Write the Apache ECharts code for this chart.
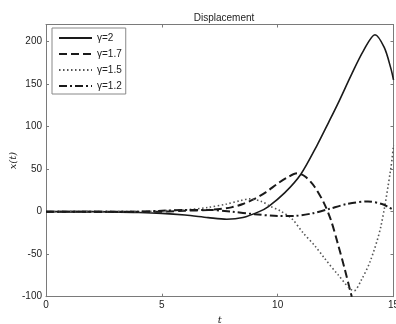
<!DOCTYPE html>
<html><head><meta charset="utf-8">
<script src="https://cdn.jsdelivr.net/npm/echarts@6/dist/echarts.min.js"></script>
<style>html,body{margin:0;padding:0;background:#fff}#c{width:396px;height:324px}</style>
</head><body><div id="c"></div>
<script>
// gamma = 2 (solid)
const t2 = [0, 2, 4, 5, 6, 7, 7.8, 8.5, 9.2, 9.6, 10.3, 11, 11.7, 12.2, 12.6, 13.2, 13.7, 14.2, 14.6, 14.88, 15];
const v2 = [0, 0, -1, -2, -4, -7, -9, -7, 0, 6, 22, 44, 78, 105, 127, 162, 189, 208, 193, 169, 155];
// gamma = 1.7 (dashed)
const t17 = [0, 2, 4, 5, 6, 7, 7.5, 8, 8.5, 9, 9.5, 10, 10.4, 10.85, 11.2, 11.6, 12.0, 12.3, 12.6, 12.9, 13.15, 13.2];
const v17 = [0, 0, 0, 0, 1, 2, 3, 5, 9, 15, 23, 33, 40, 45, 41, 29, 10, -10, -38, -68, -95, -100];
// gamma = 1.5 (dotted)
const t15 = [0, 2, 4, 5, 6, 7, 7.8, 8.4, 8.8, 9.3, 9.7, 10.1, 10.6, 11.1, 11.6, 12, 12.6, 13.3, 13.6, 14, 14.45, 14.88, 15];
const v15 = [0, 0, 0, 1, 2, 5, 9, 13, 15, 12, 6, 1, -8, -25, -40, -54, -74, -93, -81, -58, -18, 50, 78];
// gamma = 1.2 (dash-dot)
const t12 = [0, 2, 4, 5, 6, 7, 8, 9, 10, 10.7, 11.5, 12.2, 13, 13.9, 14.5, 14.8, 15];
const v12 = [0, 0, 0, 1, 2, 2, 0, -3, -5, -5, -2, 3, 9, 12, 9, 5, 2];

const names = ['γ=2', 'γ=1.7', 'γ=1.5', 'γ=1.2'];
const xTicks = [0, 5, 10, 15];
const yTicks = [-100, -50, 0, 50, 100, 150, 200];

const pair = (ts, vs) => ts.map((t, i) => [t, vs[i]]);
const styles = [
  {type: 'solid', width: 1.6, color: '#1a1a1a'},
  {type: [8, 4], width: 2, color: '#1a1a1a'},
  {type: [1.5, 2.5], width: 1.6, color: '#555'},
  {type: [8, 3, 2, 3], width: 2, color: '#1a1a1a'}
];
const datas = [pair(t2, v2), pair(t17, v17), pair(t15, v15), pair(t12, v12)];

const font = 'Liberation Sans, Arial, Helvetica, sans-serif';
const axisCol = '#7a7a7a';
const chart = echarts.init(document.getElementById('c'), null, {renderer: 'canvas'});
chart.setOption({
  animation: false,
  backgroundColor: '#fff',
  title: {text: 'Displacement', left: 219, top: 8, textAlign: 'center',
    textStyle: {fontFamily: font, fontSize: 10, fontWeight: 'normal', color: '#222'}},
  grid: {left: 46, top: 24.5, right: 2.5, bottom: 27.3, outerBoundsMode: 'none', containLabel: false},
  legend: {
    left: 52, top: 28, orient: 'vertical',
    padding: [5, 4, 3, 6],
    itemWidth: 33, itemHeight: 10, itemGap: 6,
    borderColor: '#888', borderWidth: 1, backgroundColor: '#fff',
    itemStyle: {opacity: 0},
    textStyle: {fontFamily: font, fontSize: 10, color: '#222'},
    data: names
  },
  xAxis: [{
    type: 'value', min: 0, max: 15, interval: 5, position: 'bottom',
    name: 't', nameLocation: 'middle', nameGap: 14,
    nameTextStyle: {fontFamily: 'DejaVu Serif, serif', fontStyle: 'italic', fontSize: 10, color: '#222'},
    axisLine: {onZero: false, lineStyle: {color: axisCol, width: 1}},
    axisTick: {inside: true, length: 3, lineStyle: {color: axisCol}},
    axisLabel: {fontFamily: font, fontSize: 10, color: '#222', margin: 4,
      formatter: v => xTicks.includes(v) ? String(v) : ''},
    splitLine: {show: false}
  }, {
    type: 'value', min: 0, max: 15, interval: 5, position: 'top',
    axisLine: {onZero: false, lineStyle: {color: axisCol, width: 1}},
    axisTick: {inside: true, length: 3, lineStyle: {color: axisCol}},
    axisLabel: {show: false}, splitLine: {show: false}
  }],
  yAxis: [{
    type: 'value', min: -100, max: 220, interval: 50, position: 'left',
    name: 'x(t)', nameLocation: 'middle', nameGap: 28, nameMoveOverlap: false,
    nameTextStyle: {fontFamily: 'DejaVu Serif, serif', fontStyle: 'italic', fontSize: 10, color: '#222'},
    axisLine: {show: true, onZero: false, lineStyle: {color: axisCol, width: 1}},
    axisTick: {show: true, inside: true, length: 3, lineStyle: {color: axisCol}},
    axisLabel: {fontFamily: font, fontSize: 10, color: '#222', margin: 4, showMaxLabel: false,
      formatter: v => yTicks.includes(v) ? String(v) : ''},
    splitLine: {show: false}
  }, {
    type: 'value', min: -100, max: 220, interval: 50, position: 'right',
    axisLine: {show: true, onZero: false, lineStyle: {color: axisCol, width: 1}},
    axisTick: {show: true, inside: true, length: 3, lineStyle: {color: axisCol}},
    axisLabel: {show: false}, splitLine: {show: false}
  }],
  series: names.map((n, i) => ({
    name: n, type: 'line', data: datas[i], smooth: 0.3, symbol: 'none',
    xAxisIndex: 0, yAxisIndex: 0, clip: true,
    lineStyle: styles[i], itemStyle: {color: styles[i].color}
  }))
});
</script></body></html>
